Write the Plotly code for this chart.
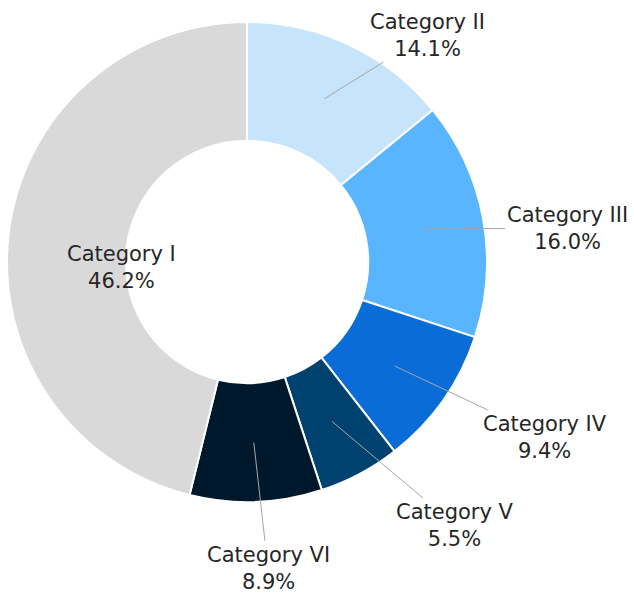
import math
import plotly.graph_objects as go

categories = ["Category II", "Category III", "Category IV", "Category V", "Category VI", "Category I"]
values = [14.1, 16.0, 9.4, 5.5, 8.9, 46.2]
colors = ["#C7E4FD", "#59B5FF", "#0A6CD7", "#00426F", "#00182C", "#D9D9D9"]

W, H = 634, 594
CX, CY, R, HOLE = 247, 262, 240, 0.505

# label text centres (pixels) – layout only
label_pos = {
    "Category II": (427, 35),
    "Category III": (567, 228),
    "Category IV": (545, 437),
    "Category V": (455, 525),
    "Category VI": (268, 568),
    "Category I": (65, 267),
}
leader = {"Category I": False}

fig = go.Figure(go.Pie(
    labels=categories, values=values, sort=False, direction="clockwise", rotation=0,
    hole=HOLE, textinfo="none", hoverinfo="label+percent",
    marker=dict(colors=colors, line=dict(color="white", width=2)),
    domain=dict(x=[(CX - R) / W, (CX + R) / W], y=[1 - (CY + R) / H, 1 - (CY - R) / H]),
    showlegend=False,
))

total = sum(values)
cum = 0
annotations = []
font = dict(family="DejaVu Sans", size=21, color="#262626")
for cat, v in zip(categories, values):
    mid = (cum + v / 2) / total * 2 * math.pi
    cum += v
    rm = R * (1 + HOLE) / 2
    px = CX + rm * math.sin(mid)
    py = CY - rm * math.cos(mid)
    lx, ly = label_pos[cat]
    text = f"{cat}<br>{v / total * 100:.1f}%"
    if leader.get(cat, True):
        annotations.append(dict(
            x=px / W, y=1 - py / H, xref="paper", yref="paper",
            ax=lx - px, ay=ly - py, axref="pixel", ayref="pixel",
            text=text, showarrow=True, arrowhead=0, arrowwidth=1, arrowcolor="#A6A6A6",
            font=font, align="center", standoff=0,
        ))
    else:
        annotations.append(dict(
            x=lx / W, y=1 - ly / H, xref="paper", yref="paper",
            text=text, showarrow=False, font=font, align="center",
        ))

fig.update_layout(
    width=W, height=H, margin=dict(l=0, r=0, t=0, b=0),
    paper_bgcolor="white", plot_bgcolor="white", annotations=annotations,
)
fig.write_html("out.html", config={"displayModeBar": False},
               post_script="document.body.style.margin='0';")
